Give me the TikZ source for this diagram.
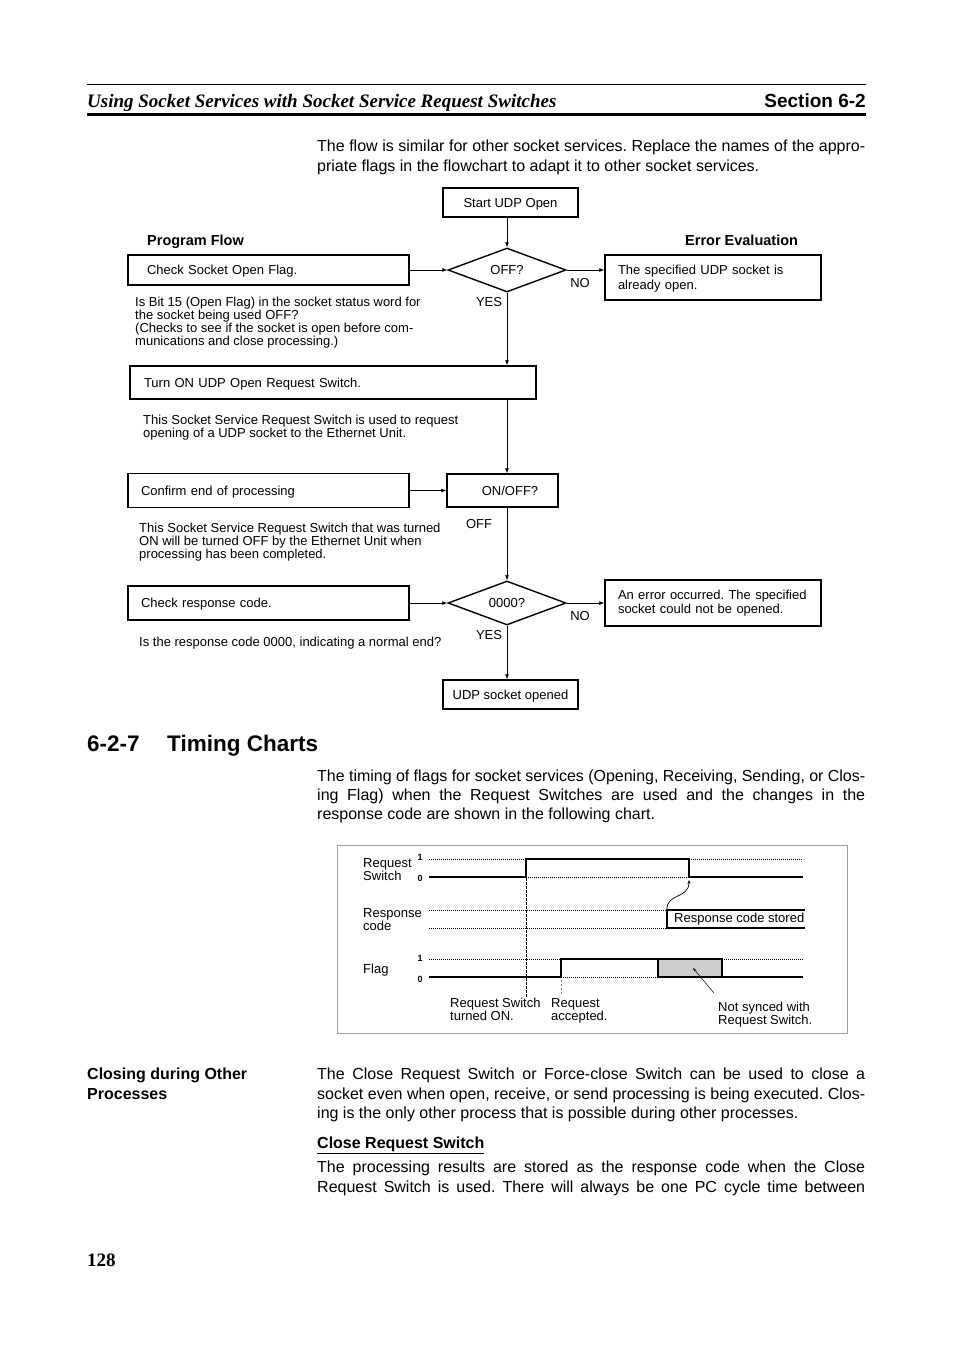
\documentclass[tikz,border=0pt]{standalone}
\usepackage{fontspec}
\setmainfont{Liberation Sans}
\newfontfamily\serifbi{Liberation Serif}
\usetikzlibrary{shapes.geometric,arrows.meta}
\begin{document}
\frenchspacing
\begin{tikzpicture}[x=1pt,y=-1pt,
  mybox/.style={draw, line width=1.4pt, inner ysep=0pt, align=left, font=\fontsize{13}{15}\selectfont},
  onebox/.style={mybox, text depth=0pt},
  dia/.style={diamond, draw, line width=1.4pt, minimum width=118pt, minimum height=44pt, inner sep=0pt, aspect=2.68, text depth=0pt, font=\fontsize{13}{15}\selectfont},
  flow/.style={line width=0.8pt, -{Latex[length=5pt,width=4pt]}},
  lbl/.style={anchor=base west, inner sep=0pt, font=\fontsize{13}{13}\selectfont},
  yn/.style={anchor=center, inner sep=0pt, font=\fontsize{13}{13}\selectfont},
  body/.style={anchor=base west, inner sep=0pt, font=\fontsize{16}{20}\selectfont},
  bodyb/.style={anchor=base west, inner sep=0pt, font=\bfseries\fontsize{16}{20}\selectfont},
  digit/.style={anchor=center, inner sep=0pt, font=\bfseries\fontsize{9}{9}\selectfont},
  wave/.style={line width=1.6pt},
  dots/.style={line width=0.6pt, dash pattern=on 0.8pt off 1.2pt},
]
\useasboundingbox (0,0) rectangle (954,1351);
\fill[white] (0,0) rectangle (954,1351);

% header
\draw[line width=0.8pt] (87,84) -- (866,84);
\draw[line width=3pt] (87,115) -- (866,115);
\node[anchor=base west, inner sep=0pt, font={\serifbi\bfseries\itshape\fontsize{19}{19}\selectfont}] (hdr) at (87,107.5) {Using Socket Services with Socket Service Request Switches};
\node[anchor=base east, inner sep=0pt, font={\bfseries\fontsize{19}{19}\selectfont}] (sec) at (866,107.5) {Section 6-2};

% top paragraph
\node[body] (p1a) at (317,152) {\makebox[548pt][s]{The flow is similar for other socket services. Replace the names of the appro-}};
\node[body] (p1b) at (317,172) {priate flags in the flowchart to adapt it to other socket services.};

% flowchart
\node[anchor=base west, inner sep=0pt, font={\bfseries\fontsize{14.5}{14.5}\selectfont}] (pf) at (147,245) {Program Flow};
\node[anchor=base west, inner sep=0pt, font={\bfseries\fontsize{14.5}{14.5}\selectfont}] (ee) at (685,245) {Error Evaluation};

\node[onebox, minimum width=135pt, minimum height=29pt, inner xsep=0pt, align=center] (start) at (510.5,202.5) {Start UDP Open};
\node[dia] (d1) at (507,270) {OFF?};
\node[onebox, text width=243pt, inner xsep=19pt, minimum height=30pt] (check) at (268.5,270) {Check Socket Open Flag.};
\node[mybox, text width=190pt, inner xsep=13pt, minimum height=45pt, text height=12pt] (spec) at (713,277.5) {The specified UDP socket is\\already open.};
\node[onebox, text width=378pt, inner xsep=14pt, minimum height=33pt] (turnon) at (333,382.5) {Turn ON UDP Open Request Switch.};
\node[onebox, text width=255pt, inner xsep=13pt, minimum height=34pt] (confirm) at (268.5,490.5) {Confirm end of processing};
\node[onebox, minimum width=111pt, minimum height=33pt, inner xsep=0pt, align=center] (onoff) at (502.5,490.5) {\hspace*{15pt}ON/OFF?};
\node[dia] (d2) at (507,603) {0000?};
\node[onebox, text width=255pt, inner xsep=13pt, minimum height=34pt] (resp) at (268.5,603) {Check response code.};
\node[mybox, text width=190pt, inner xsep=13pt, minimum height=46pt, font=\fontsize{13}{13.5}\selectfont] (err) at (713,603) {\mbox{An error occurred. The specified}\\\mbox{socket could not be opened.}};
\node[onebox, minimum width=135pt, minimum height=29pt, inner xsep=0pt, align=center] (opened) at (510.5,694.5) {UDP socket opened};

\draw[flow] (start.south -| d1.north) -- (d1.north);
\draw[flow] (check.east) -- (d1.west);
\draw[flow] (d1.east) -- (d1.east -| spec.west);
\draw[flow] (d1.south) -- (d1.south |- turnon.north);
\draw[flow] (d1.south |- turnon.south) -- (d1.south |- onoff.north);
\draw[flow] (confirm.east) -- (onoff.west);
\draw[flow] (d1.south |- onoff.south) -- (d2.north);
\draw[flow] (resp.east) -- (d2.west);
\draw[flow] (d2.east) -- (d2.east -| err.west);
\draw[flow] (d2.south) -- (opened.north -| d2.south);

\node[yn] (no1) at (580,283) {NO};
\node[yn] (yes1) at (489,302) {YES};
\node[yn] (off1) at (479,524) {OFF};
\node[yn] (no2) at (580,616) {NO};
\node[yn] (yes2) at (489,635) {YES};

\node[lbl] (a1) at (135,306) {Is Bit 15 (Open Flag) in the socket status word for};
\node[lbl] (a2) at (135,319) {the socket being used OFF?};
\node[lbl] (a3) at (135,332) {(Checks to see if the socket is open before com-};
\node[lbl] (a4) at (135,345) {munications and close processing.)};
\node[lbl] (b1) at (143,424) {This Socket Service Request Switch is used to request};
\node[lbl] (b2) at (143,437) {opening of a UDP socket to the Ethernet Unit.};
\node[lbl] (c1) at (139,532) {This Socket Service Request Switch that was turned};
\node[lbl] (c2) at (139,545) {ON will be turned OFF by the Ethernet Unit when};
\node[lbl] (c3) at (139,558) {processing has been completed.};
\node[lbl] (e1) at (139,646) {Is the response code 0000, indicating a normal end?};

% title
\node[anchor=base west, inner sep=0pt, font={\bfseries\fontsize{22.5}{22.5}\selectfont}] (tnum) at (87,751) {6-2-7};
\node[anchor=base west, inner sep=0pt, font={\bfseries\fontsize{22.5}{22.5}\selectfont}] (ttl) at (167,751) {Timing Charts};

\node[body] (q1) at (317,781) {\makebox[548pt][s]{The timing of flags for socket services (Opening, Receiving, Sending, or Clos-}};
\node[body] (q2) at (317,800) {\makebox[548pt][s]{ing Flag) when the Request Switches are used and the changes in the}};
\node[body] (q3) at (317,819) {response code are shown in the following chart.};

% timing chart
\draw[gray!75, line width=0.9pt] (337,845) rectangle (847,1033);
\node[lbl] (rs1) at (363,867) {Request};
\node[lbl] (rs2) at (363,880) {Switch};
\node[lbl] (rc1) at (363,917) {Response};
\node[lbl] (rc2) at (363,930) {code};
\node[lbl] (fl) at (363,973) {Flag};
\node[digit] (d11) at (420,857) {1};
\node[digit] (d10) at (420,878) {0};
\node[digit] (d21) at (420,958) {1};
\node[digit] (d20) at (420,979) {0};

\draw[dots] (429,859) -- (526,859) (689,859) -- (803,859) (526,877) -- (689,877);
\draw[wave] (429,877) -- (526,877) -- (526,859) -- (689,859) -- (689,877) -- (803,877);
\draw[dots] (429,910) -- (667,910) (429,928) -- (667,928);
\draw[wave] (805,910) -- (667,910) -- (667,928) -- (805,928);
\node[lbl] (rcs) at (674,922.5) {Response code stored};
\draw[dots] (429,959) -- (561,959) (722,959) -- (803,959) (561,977) -- (658,977);
\draw[wave] (429,977) -- (561,977) -- (561,959) -- (658,959);
\draw[wave, fill=gray!40] (658,959) rectangle (722,977);
\draw[wave] (722,977) -- (803,977);
\draw[line width=0.7pt, dash pattern=on 2.5pt off 1.5pt] (526,862) -- (526,997);
\draw[gray, line width=0.6pt, dash pattern=on 2pt off 2pt] (561,980) -- (561,995);

\coordinate (cs) at (667,910);
\coordinate (ce) at (689,880);
\draw[line width=0.7pt, -{Stealth[length=4pt,width=3pt]}] (cs) .. controls (666,893) and (689,899) .. (ce);
\coordinate (ns) at (714,993);
\coordinate (ne) at (693,968);
\draw[line width=0.5pt, -{Stealth[length=4pt,width=2.5pt]}] (ns) -- (ne);

\node[lbl] (x1) at (450,1007.5) {Request Switch};
\node[lbl] (x2) at (450,1020) {turned ON.};
\node[lbl] (y1) at (551,1007.5) {Request};
\node[lbl] (y2) at (551,1020) {accepted.};
\node[lbl] (z1) at (718,1011.5) {Not synced with};
\node[lbl] (z2) at (718,1024) {Request Switch.};

% closing
\node[bodyb] (cl1) at (87,1079) {Closing during Other};
\node[bodyb] (cl2) at (87,1099) {Processes};
\node[body] (r1) at (317,1079) {\makebox[548pt][s]{The Close Request Switch or Force-close Switch can be used to close a}};
\node[body] (r2) at (317,1099) {\makebox[548pt][s]{socket even when open, receive, or send processing is being executed. Clos-}};
\node[body] (r3) at (317,1118) {ing is the only other process that is possible during other processes.};
\node[bodyb] (crs) at (317,1148) {\underline{Close Request Switch}};
\node[body] (r4) at (317,1172) {\makebox[548pt][s]{The processing results are stored as the response code when the Close}};
\node[body] (r5) at (317,1192) {\makebox[548pt][s]{Request Switch is used. There will always be one PC cycle time between}};

\node[anchor=base west, inner sep=0pt, font={\serifbi\bfseries\fontsize{19}{19}\selectfont}] (pg) at (87,1266) {128};
\end{tikzpicture}
\end{document}
